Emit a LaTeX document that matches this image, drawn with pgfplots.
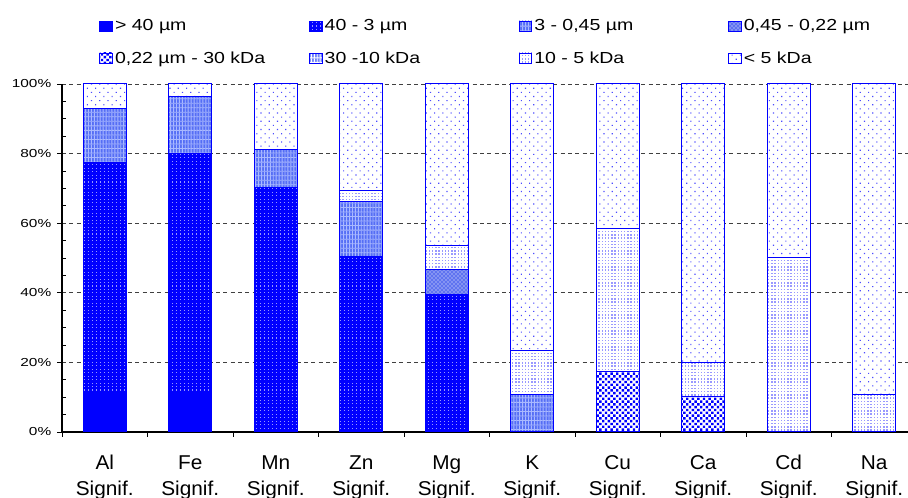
\documentclass[border=0pt]{standalone}
\usepackage{pgfplots}
\pgfplotsset{compat=1.18}
\usepackage{pgfplotstable}
\usetikzlibrary{patterns}
\usepackage{fontspec}
\setmainfont{Liberation Sans}
\newfontfamily\legfont[FakeStretch=1.22]{Liberation Sans}
\newfontfamily\tickfont[FakeStretch=1.33]{Liberation Sans}
\newfontfamily\catfont[FakeStretch=1.04]{Liberation Sans}

\definecolor{cb}{RGB}{0,0,255}
\definecolor{c3}{RGB}{85,110,245}
\definecolor{c3p}{RGB}{170,185,255}
\definecolor{c4}{RGB}{95,115,240}
\definecolor{c6}{RGB}{110,130,250}
\definecolor{c2p}{RGB}{150,150,255}

% sparse staggered dots (< 5 kDa)
\pgfdeclarepatternformonly{sparsedots}{\pgfqpoint{-0.5pt}{-0.5pt}}{\pgfqpoint{6.5pt}{6.5pt}}{\pgfqpoint{6.2pt}{6.2pt}}{%
  \pgfpathrectangle{\pgfqpoint{0pt}{0pt}}{\pgfqpoint{0.85pt}{0.85pt}}%
  \pgfpathrectangle{\pgfqpoint{3.1pt}{3.1pt}}{\pgfqpoint{0.85pt}{0.85pt}}%
  \pgfusepath{fill}}
% fine dots (10 - 5 kDa)
\pgfdeclarepatternformonly{finedots}{\pgfqpoint{-0.5pt}{-0.5pt}}{\pgfqpoint{3pt}{3pt}}{\pgfqpoint{2.4pt}{2.4pt}}{%
  \pgfpathrectangle{\pgfqpoint{0pt}{0pt}}{\pgfqpoint{1pt}{1pt}}%
  \pgfusepath{fill}}
% white dots on blue (40 - 3 um)
\pgfdeclarepatternformonly{bluedots}{\pgfqpoint{-0.5pt}{-0.5pt}}{\pgfqpoint{3.5pt}{3.5pt}}{\pgfqpoint{3pt}{2.6pt}}{%
  \pgfpathrectangle{\pgfqpoint{0pt}{0pt}}{\pgfqpoint{0.8pt}{0.8pt}}%
  \pgfusepath{fill}}
% big dots (0.22 um - 30 kDa)
\pgfdeclarepatternformonly{bigdots}{\pgfqpoint{-0.5pt}{-0.5pt}}{\pgfqpoint{4.5pt}{4.5pt}}{\pgfqpoint{4.2pt}{4.2pt}}{%
  \pgfpathrectangle{\pgfqpoint{0pt}{0pt}}{\pgfqpoint{1.8pt}{1.8pt}}%
  \pgfpathrectangle{\pgfqpoint{2.1pt}{2.1pt}}{\pgfqpoint{1.8pt}{1.8pt}}%
  \pgfusepath{fill}}
% fine grid (3 - 0.45 um, 30 - 10 kDa)
\pgfdeclarepatternformonly{finegrid}{\pgfqpoint{-0.5pt}{-0.5pt}}{\pgfqpoint{3pt}{4pt}}{\pgfqpoint{2.2pt}{3.4pt}}{%
  \pgfpathrectangle{\pgfqpoint{0pt}{0pt}}{\pgfqpoint{0.7pt}{3.4pt}}%
  \pgfpathrectangle{\pgfqpoint{0pt}{0pt}}{\pgfqpoint{2.2pt}{0.6pt}}%
  \pgfusepath{fill}}

\pgfplotstableread{
x  a     b     c     d    e     f  g     h
0  11.3  66.2  15.5  0    0     0  0     7.0
1  11.1  68.8  16.6  0    0     0  0     3.5
2  0     70.3  11.0  0    0     0  0     18.7
3  0     50.5  15.6  0    0     0  3.4   30.5
4  0     39.6  0     7.1  0     0  6.8   46.5
5  0     0     10.9  0    0     0  12.6  76.5
6  0     0     0     0    17.5  0  41.1  41.4
7  0     0     0     0    10.2  0  9.7   80.1
8  0     0     0     0    0     0  50.0  50.0
9  0     0     0     0    0     0  10.9  89.1
}\data

\begin{document}
\begin{tikzpicture}
\begin{axis}[
  at={(46.5pt,49.5pt)}, anchor=south west,
  width=641.25pt, height=261pt, scale only axis,
  ybar stacked, bar width=32.25pt,
  xmin=-0.5, xmax=9.5, ymin=0, ymax=100,
  axis x line*=bottom, axis y line*=left,
  axis line style={line width=0.8pt, -},
  tick align=outside,
  major tick length=3.5pt, minor tick length=3pt,
  tick style={black, line width=0.7pt},
  xtick={-0.5,0.5,...,9.5},
  xticklabels={},
  extra x ticks={0,1,2,3,4,5,6,7,8,9},
  extra x tick labels={{Al\\Signif.},{Fe\\Signif.},{Mn\\Signif.},{Zn\\Signif.},{Mg\\Signif.},{K\\Signif.},{Cu\\Signif.},{Ca\\Signif.},{Cd\\Signif.},{Na\\Signif.}},
  extra x tick style={major tick length=0pt, grid=none},
  x tick label style={align=center, font=\catfont\fontsize{15}{19.6}\selectfont, yshift=-14pt},
  ytick={0,20,40,60,80,100},
  yticklabels={0\%,20\%,40\%,60\%,80\%,100\%},
  y tick label style={font=\tickfont\fontsize{8.7}{10}\selectfont, xshift=-1pt},
  minor y tick num=3,
  minor y tick style={xshift=3pt},
  ymajorgrids,
  major grid style={black!75, line width=0.6pt, dash pattern=on 3pt off 2.5pt},
  legend columns=4,
  legend style={at={(0.0435,1.191)}, anchor=north west, draw=none, fill=none,
    font=\legfont\fontsize{12}{14}\selectfont, row sep=11pt, inner sep=0pt,
    nodes={inner sep=1.5pt}},
  legend cell align=left,
  legend image code/.code={\draw[#1, line width=0.6pt] (0pt,-4.1pt) rectangle (9.6pt,4.1pt);},
  every axis plot/.append style={draw=cb, line width=0.75pt},
]
\addplot[fill=cb] table[x=x,y=a]{\data};
\addplot[fill=cb, postaction={pattern=bluedots, pattern color=c2p}] table[x=x,y=b]{\data};
\addplot[fill=c3, postaction={pattern=finegrid, pattern color=c3p}] table[x=x,y=c]{\data};
\addplot[fill=c4, postaction={pattern=crosshatch dots, pattern color=white}] table[x=x,y=d]{\data};
\addplot[fill=white, postaction={pattern=bigdots, pattern color=cb}] table[x=x,y=e]{\data};
\addplot[fill=c6, postaction={pattern=finegrid, pattern color=white}] table[x=x,y=f]{\data};
\addplot[fill=white, postaction={pattern=finedots, pattern color=blue!40}] table[x=x,y=g]{\data};
\addplot[fill=white, postaction={pattern=sparsedots, pattern color=blue!70}] table[x=x,y=h]{\data};
\legend{\makebox[144pt][l]{> 40 µm},\makebox[144pt][l]{40 - 3 µm},\makebox[144pt][l]{3 - 0,45 µm},\makebox[144pt][l]{0,45 - 0,22 µm},
  \makebox[144pt][l]{0,22 µm - 30 kDa},\makebox[144pt][l]{30 -10 kDa},\makebox[144pt][l]{10 - 5 kDa},\makebox[144pt][l]{< 5 kDa}}
\end{axis}
\pgfresetboundingbox
\path[use as bounding box] (0,0) rectangle (681pt,373.5pt);
\end{tikzpicture}
\end{document}
